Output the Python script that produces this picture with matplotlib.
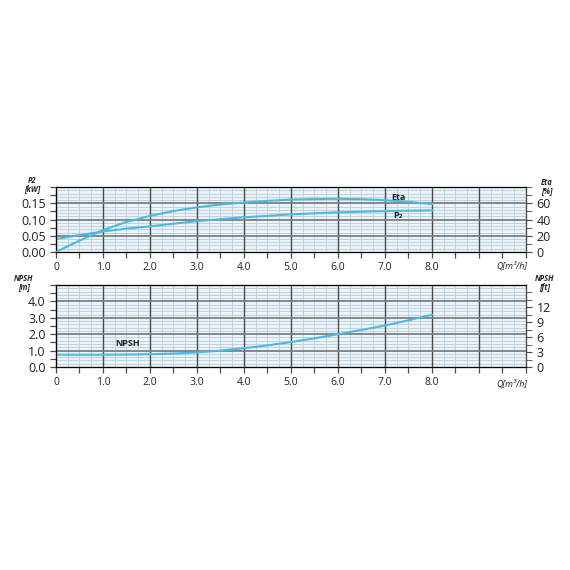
import matplotlib
matplotlib.use("Agg")
import matplotlib.pyplot as plt
from matplotlib.ticker import MultipleLocator, FixedLocator

plt.rcParams["font.family"] = ["Open Sans", "DejaVu Sans"]

# flow rate points (m3/h)
q = [0, 0.5, 1.0, 1.5, 2.0, 2.5, 3.0, 3.5, 4.0, 4.5, 5.0, 5.5, 6.0, 6.5, 7.0, 7.5, 8.0]
p2_kw = [0.040, 0.052, 0.063, 0.072, 0.079, 0.087, 0.095, 0.101, 0.107, 0.111,
         0.116, 0.119, 0.122, 0.124, 0.126, 0.127, 0.128]
eta_pct = [0, 14, 27, 37, 44.5, 50.5, 55, 58.5, 61, 63, 64.5, 65.2, 65.5, 65,
           63.8, 61.8, 59]
npsh_m = [0.75, 0.75, 0.75, 0.76, 0.78, 0.82, 0.89, 1.0, 1.15, 1.32, 1.52, 1.75,
          2.0, 2.26, 2.53, 2.85, 3.19]

x_labels = ["0", "1.0", "2.0", "3.0", "4.0", "5.0", "6.0", "7.0", "8.0"]

CURVE = "#4db9e0"
FACE = "#eaf4fb"
THIN = "#c4d1db"
DARK = "#4a4a4a"
MID = "#7e7e7e"
M_TO_FT = 3.2808


def style_panel(ax, ymax, y_minor, y_major, y_tick_minor):
    ax.set_facecolor(FACE)
    ax.set_xlim(0, 10)
    ax.set_ylim(0, ymax)
    for x in [i * 0.25 for i in range(1, 40)]:
        if abs(x - round(x)) < 1e-9:
            continue
        ax.axvline(x, color=THIN, lw=0.7, zorder=1)
    n = int(round(ymax / y_minor))
    for i in range(1, n):
        y = i * y_minor
        if abs(y / y_major - round(y / y_major)) < 1e-6:
            continue
        ax.axhline(y, color=THIN, lw=0.7, zorder=1)
    for x in range(1, 10):
        ax.axvline(x, color=DARK, lw=1.0, zorder=2)
    m = int(round(ymax / y_major))
    for i in range(1, m):
        ax.axhline(i * y_major, color=MID, lw=1.3, zorder=2)
    for s in ax.spines.values():
        s.set_color(MID)
        s.set_linewidth(1.0)
    ax.spines["left"].set_color(DARK)
    ax.xaxis.set_major_locator(FixedLocator(range(0, 9)))
    ax.set_xticklabels(x_labels)
    ax.xaxis.set_minor_locator(MultipleLocator(0.5))
    ax.yaxis.set_minor_locator(MultipleLocator(y_tick_minor))
    ax.tick_params(axis="both", which="both", direction="out", color=DARK,
                   width=0.9, labelsize=9, colors="#222222")
    ax.tick_params(which="major", length=4)
    ax.tick_params(which="minor", length=4)
    ax.tick_params(axis="x", pad=3, labelsize=7.5)
    ax.text(9.7, -0.14, "Q[m³/h]", transform=ax.get_xaxis_transform(),
            ha="center", va="top", fontsize=6.5, style="italic", color="#222222")


fig = plt.figure(figsize=(5.7, 5.7), dpi=100)

# top panel: P2 and Eta
ax1 = fig.add_axes([0.0982, 0.5579, 0.8246, 0.114])
style_panel(ax1, 0.2, 0.01, 0.05, 0.025)
ax1.set_yticks([0, 0.05, 0.10, 0.15])
ax1.set_yticklabels(["0.00", "0.05", "0.10", "0.15"])
ax1.plot(q, p2_kw, color=CURVE, lw=1.5, zorder=5)
ax1r = ax1.twinx()
ax1r.set_ylim(0, 80)
ax1r.set_yticks([0, 20, 40, 60])
ax1r.yaxis.set_minor_locator(MultipleLocator(10))
ax1r.tick_params(axis="y", which="both", direction="out", length=4, color=DARK,
                 labelsize=9, colors="#222222")
ax1r.spines["right"].set_color(DARK)
ax1r.plot(q, eta_pct, color=CURVE, lw=1.5, zorder=5)
ax1.text(7.28, 0.169, "Eta", fontsize=6.5, weight="bold", ha="center", va="center",
         color="#222222", zorder=6)
ax1.text(7.28, 0.111, "P₂", fontsize=6.5, weight="bold", ha="center", va="center",
         color="#222222", zorder=6)
fig.text(0.057, 0.675, "P2\n[kW]", fontsize=5.5, style="italic", weight="bold",
         ha="center", va="center", linespacing=1.0, color="#222222")
fig.text(0.959, 0.672, "Eta\n[%]", fontsize=5.5, style="italic", weight="bold",
         ha="center", va="center", linespacing=1.0, color="#222222")

# bottom panel: NPSH
ax2 = fig.add_axes([0.0982, 0.3561, 0.8246, 0.1439])
style_panel(ax2, 5.0, 0.2, 1.0, 0.5)
ax2.set_yticks([0, 1, 2, 3, 4])
ax2.set_yticklabels(["0.0", "1.0", "2.0", "3.0", "4.0"])
ax2.plot(q, npsh_m, color=CURVE, lw=1.5, zorder=5)
ax2r = ax2.twinx()
ax2r.set_ylim(0, 5.0 * M_TO_FT)
ax2r.set_yticks([0, 3, 6, 9, 12])
ax2r.yaxis.set_minor_locator(MultipleLocator(1.5))
ax2r.tick_params(axis="y", which="both", direction="out", length=4, color=DARK,
                 labelsize=9, colors="#222222")
ax2r.spines["right"].set_color(DARK)
ax2.text(1.53, 1.42, "NPSH", fontsize=6.5, weight="bold", ha="center", va="center",
         color="#222222", zorder=6)
fig.text(0.042, 0.504, "NPSH\n[m]", fontsize=5.5, style="italic", weight="bold",
         ha="center", va="center", linespacing=1.0, color="#222222")
fig.text(0.956, 0.504, "NPSH\n[ft]", fontsize=5.5, style="italic", weight="bold",
         ha="center", va="center", linespacing=1.0, color="#222222")

fig.savefig("out.png", dpi=100, facecolor="white")
